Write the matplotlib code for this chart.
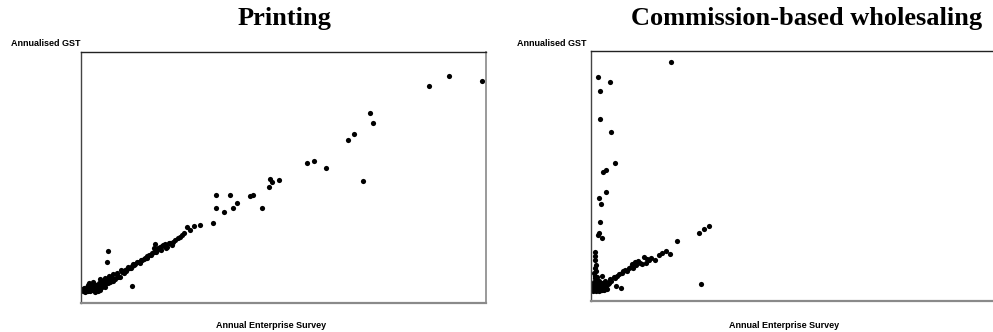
import matplotlib
matplotlib.use("Agg")
import matplotlib.pyplot as plt
from matplotlib import font_manager

# %% Data (axis range 0-100 on both panels)
printing_x = [85.9, 90.8, 99.1, 71.3, 72.1, 67.3, 66.0, 55.9, 57.4, 60.4, 69.7,
              46.6, 47.1, 48.9, 46.5, 33.2, 36.9, 41.7, 42.5, 38.4, 37.5, 33.4,
              35.4, 44.8, 32.7, 29.4, 27.9, 26.9, 26.2, 25.0, 24.0, 22.8, 21.6,
              20.3, 19.1, 18.3, 17.9, 16.2, 15.0, 13.7, 12.5, 11.3, 10.0, 8.8,
              6.7, 6.3, 12.7,
              0.6, 0.9, 1.2, 1.5, 1.8, 2.1, 2.4, 2.7, 3.0, 3.3, 3.6, 3.9, 4.2,
              4.5, 4.8, 5.1, 5.4, 5.7, 6.0, 6.3, 6.6, 6.9, 7.2, 7.5, 7.8, 8.1,
              8.4, 0.8, 1.4, 2.0, 2.6, 3.2, 3.8, 4.4, 5.0, 5.6, 6.2, 6.8, 7.4,
              1.0, 1.7, 2.3, 2.9, 3.5, 4.1, 4.7, 5.3, 5.9, 0.5, 2.0, 3.0, 4.6,
              9.0, 9.5, 10.5, 11.0, 12.0, 13.0, 14.2, 15.5, 16.8, 17.5, 18.8,
              19.5, 20.8, 22.0, 23.2, 24.5, 25.5, 14.8, 12.9, 18.0, 20.0, 21.2,
              9.8, 10.8, 11.6, 12.4, 13.4, 14.6, 15.8, 16.4, 17.2, 18.4, 19.8,
              21.0, 22.4, 7.0, 8.0, 9.2, 10.2, 5.8, 6.8, 3.4, 4.2, 1.6, 2.5]
printing_y = [86.4, 90.3, 88.6, 75.9, 71.7, 67.5, 64.9, 55.6, 56.7, 53.9, 48.6,
              49.3, 48.1, 49.1, 46.4, 43.0, 43.0, 42.6, 43.0, 39.7, 38.0, 38.0,
              36.4, 37.7, 31.7, 31.0, 30.5, 28.9, 30.1, 27.2, 25.8, 24.5, 23.8,
              23.2, 21.9, 23.6, 20.5, 18.8, 17.2, 16.2, 14.6, 13.5, 12.6, 11.9,
              20.9, 16.2, 6.6,
              4.6, 5.0, 4.8, 5.3, 5.0, 5.6, 5.2, 6.0, 5.5, 6.3, 5.8, 6.6, 6.2,
              7.0, 6.5, 7.3, 7.0, 7.8, 7.4, 8.2, 7.9, 8.6, 8.3, 9.1, 8.8, 9.6,
              9.4, 5.8, 6.2, 6.8, 7.2, 7.6, 7.0, 8.0, 8.4, 9.0, 9.6, 10.0, 10.4,
              4.4, 4.6, 4.8, 5.0, 5.1, 5.4, 5.2, 6.2, 6.4, 5.4, 7.8, 8.4, 9.6,
              11.0, 10.5, 12.0, 12.8, 13.8, 15.0, 16.5, 17.6, 19.2, 19.8, 21.0,
              22.5, 23.5, 24.0, 25.0, 26.2, 27.8, 17.0, 15.6, 21.8, 22.6, 22.2,
              13.2, 13.0, 14.2, 14.0, 15.4, 15.8, 17.8, 18.0, 19.0, 20.2, 21.0,
              22.0, 23.0, 10.8, 11.4, 10.4, 12.2, 9.8, 9.0, 4.2, 4.6, 7.0, 6.0]

wholesale_x = [19.7, 1.7, 4.7, 2.1, 2.2, 4.9, 6.0, 3.8, 3.0, 3.6, 1.9, 2.5,
               2.3, 1.9, 1.7, 2.6, 29.1, 27.8, 26.6, 21.2, 19.6, 18.5, 17.5,
               16.9, 15.7, 14.7, 13.8, 12.6, 10.9, 10.1, 9.3, 8.5, 7.7, 6.4,
               5.6, 4.8, 3.5, 2.7, 27.2, 7.4, 6.2,
               1.0, 1.1, 0.9, 1.2, 1.0, 1.3, 0.8, 1.1, 1.5, 0.9, 1.4,
               0.4, 0.8, 1.2, 1.6, 2.0, 2.4, 2.8, 3.2, 0.5, 0.9, 1.3, 1.7, 2.1,
               2.5, 2.9, 3.3, 3.7, 0.6, 1.0, 1.4, 1.8, 2.2, 2.6, 3.0, 0.7, 1.2,
               1.6, 2.0, 4.1, 4.5, 5.0, 4.0, 3.6, 11.5, 13.2, 8.0,
               9.8, 11.0, 12.2, 13.6, 14.4, 10.4, 8.8, 7.0, 5.8, 4.4]
wholesale_y = [95.6, 89.7, 87.6, 83.9, 72.8, 67.4, 55.3, 52.3, 51.4, 43.4, 41.0,
               38.7, 31.4, 27.3, 26.4, 25.0, 30.0, 28.6, 27.3, 24.0, 18.6, 20.0,
               19.0, 18.4, 16.4, 17.0, 16.6, 14.8, 15.7, 14.8, 13.0, 12.4, 11.1,
               10.0, 9.5, 8.7, 8.1, 10.1, 6.8, 5.1, 6.0,
               19.5, 18.0, 16.5, 14.5, 13.0, 12.0, 11.0, 10.0, 9.5, 9.0, 8.5,
               4.0, 4.2, 4.0, 4.3, 4.1, 4.4, 4.2, 4.5, 5.0, 5.3, 5.0, 5.5, 5.2,
               5.7, 5.5, 6.0, 6.2, 6.2, 6.6, 6.4, 6.8, 6.5, 7.0, 7.2, 7.5, 7.8,
               7.4, 8.0, 6.8, 7.5, 7.8, 4.6, 5.0, 16.0, 17.5, 12.0,
               13.6, 14.2, 15.0, 15.2, 16.2, 13.0, 11.8, 10.8, 9.2, 7.2]

titles = ["Printing", "Commission-based wholesaling"]
x_label = "Annual Enterprise Survey"
y_label = "Annualised GST"

# %% Fonts
try:
    font_manager.findfont("Liberation Sans Narrow", fallback_to_default=False)
    small_font = dict(family="Liberation Sans Narrow", size=8)
except Exception:
    small_font = dict(family="Liberation Sans", size=6.5)
title_font = dict(family="Liberation Serif", size=19, weight="bold")

# %% Plot
fig = plt.figure(figsize=(9.93, 3.32), dpi=100)
ax1 = fig.add_axes([0.0816, 0.0873, 0.4079, 0.756])
ax2 = fig.add_axes([0.5952, 0.0934, 0.4079, 0.753])

panels = [(ax1, printing_x, printing_y), (ax2, wholesale_x, wholesale_y)]
for ax, xs, ys in panels:
    ax.scatter(xs, ys, s=14, color="black", linewidths=0)
    ax.set_xlim(0, 100)
    ax.set_ylim(0, 100)
    ax.set_xticks([])
    ax.set_yticks([])
    ax.spines["top"].set_color("#222222")
    ax.spines["left"].set_color("#444444")
    ax.spines["top"].set_linewidth(1.0)
    ax.spines["left"].set_linewidth(1.0)
    ax.spines["bottom"].set_color("#8a8a8a")
    ax.spines["right"].set_color("#9a9a9a")
    ax.spines["bottom"].set_linewidth(1.6)
    ax.spines["right"].set_linewidth(1.4)

# titles and labels
fig.text(285 / 993, 1 - 18 / 332, titles[0], ha="center", va="center", **title_font)
fig.text(807 / 993, 1 - 18 / 332, titles[1], ha="center", va="center", **title_font)
fig.text(11 / 993, 1 - 43 / 332, y_label, ha="left", va="center", weight="bold", **small_font)
fig.text(517 / 993, 1 - 43 / 332, y_label, ha="left", va="center", weight="bold", **small_font)
fig.text(271 / 993, 1 - 325 / 332, x_label, ha="center", va="center", weight="bold", **small_font)
fig.text(784 / 993, 1 - 325 / 332, x_label, ha="center", va="center", weight="bold", **small_font)

plt.savefig("out.png", dpi=100)
